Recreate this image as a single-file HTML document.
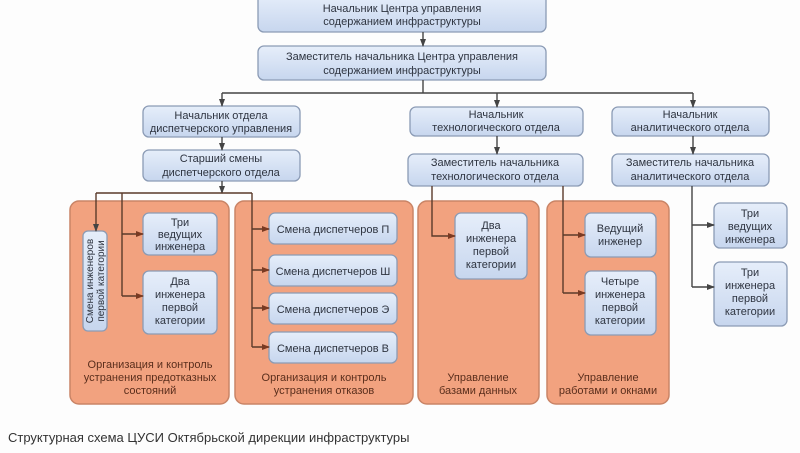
<!DOCTYPE html>
<html><head><meta charset="utf-8"><style>
html,body{margin:0;padding:0;background:#fdfdfd;}
svg{display:block;}
text{font-family:"Liberation Sans",sans-serif;font-size:11px;fill:#2e3440;text-anchor:middle;}
.o{fill:#5a2e1c;}
.v{font-size:10px;}
</style></head><body>
<svg width="800" height="453" viewBox="0 0 800 453" xmlns="http://www.w3.org/2000/svg">
<defs>
<linearGradient id="g" x1="0" y1="0" x2="0" y2="1"><stop offset="0" stop-color="#e6eefa"/><stop offset="1" stop-color="#c7d6ee"/></linearGradient>
<marker id="a" markerWidth="8" markerHeight="8" refX="7" refY="4" orient="auto" markerUnits="userSpaceOnUse"><path d="M0,1 L8,4 L0,7 Z" fill="#444"/></marker>
<marker id="b" markerWidth="8" markerHeight="8" refX="7" refY="4" orient="auto" markerUnits="userSpaceOnUse"><path d="M0,1 L8,4 L0,7 Z" fill="#7a3a22"/></marker>
</defs>
<g fill="#f2a27f" stroke="#c98466" stroke-width="1.5">
<rect x="70" y="201" width="159" height="203" rx="9"/>
<rect x="235" y="201" width="178" height="203" rx="9"/>
<rect x="418" y="201" width="121" height="203" rx="9"/>
<rect x="547" y="201" width="122" height="203" rx="9"/>
</g>
<g fill="url(#g)" stroke="#8b9bb5" stroke-width="1.3">
<rect x="258" y="-6" width="288" height="38" rx="6"/>
<rect x="258" y="46" width="288" height="34" rx="6"/>
<rect x="143" y="106" width="157" height="31" rx="6"/>
<rect x="143" y="150" width="157" height="31" rx="6"/>
<rect x="410" y="107" width="173" height="29" rx="6"/>
<rect x="612" y="107" width="157" height="29" rx="6"/>
<rect x="408" y="154" width="175" height="32" rx="6"/>
<rect x="612" y="154" width="157" height="32" rx="6"/>
<rect x="83" y="231" width="24" height="100" rx="5"/>
<rect x="143" y="213" width="74" height="42" rx="6"/>
<rect x="143" y="271" width="74" height="63" rx="6"/>
<rect x="269" y="213" width="128" height="31" rx="6"/>
<rect x="269" y="255" width="128" height="31" rx="6"/>
<rect x="269" y="293" width="128" height="31" rx="6"/>
<rect x="269" y="332" width="128" height="31" rx="6"/>
<rect x="455" y="213" width="72" height="66" rx="6"/>
<rect x="585" y="213" width="71" height="44" rx="6"/>
<rect x="585" y="271" width="71" height="64" rx="6"/>
<rect x="714" y="203" width="73" height="45" rx="6"/>
<rect x="714" y="262" width="73" height="64" rx="6"/>
</g>
<g stroke="#444" stroke-width="1.4" fill="none">
<path d="M423,32 V46" marker-end="url(#a)"/>
<path d="M423,80 V93"/>
<path d="M222,93 H693"/>
<path d="M222,93 V106" marker-end="url(#a)"/>
<path d="M497,93 V107" marker-end="url(#a)"/>
<path d="M693,93 V107" marker-end="url(#a)"/>
<path d="M222,137 V150" marker-end="url(#a)"/>
<path d="M497,136 V154" marker-end="url(#a)"/>
<path d="M693,136 V154" marker-end="url(#a)"/>
<path d="M222,181 V193" marker-end="url(#a)"/>
<path d="M692,186 V287 M692,225 H714" marker-end="url(#a)"/>
<path d="M692,287 H714" marker-end="url(#a)"/>
</g>
<g stroke="#5a3a2a" stroke-width="1.4" fill="none">
<path d="M96,193 H252"/>
<path d="M96,193 V231" marker-end="url(#a)"/>
<path d="M122,193 V296"/>
<path d="M122,234 H143" marker-end="url(#b)"/>
<path d="M122,296 H143" marker-end="url(#b)"/>
<path d="M252,193 V347"/>
<path d="M252,229 H269" marker-end="url(#b)"/>
<path d="M252,270 H269" marker-end="url(#b)"/>
<path d="M252,308 H269" marker-end="url(#b)"/>
<path d="M252,347 H269" marker-end="url(#b)"/>
<path d="M432,186 V236 H455" marker-end="url(#b)"/>
<path d="M563,186 V293"/>
<path d="M563,235 H585" marker-end="url(#b)"/>
<path d="M563,293 H585" marker-end="url(#b)"/>
</g>
<text x="402" y="12">Начальник Центра управления</text>
<text x="402" y="25">содержанием инфраструктуры</text>
<text x="402" y="60">Заместитель начальника Центра управления</text>
<text x="402" y="74">содержанием инфраструктуры</text>
<text x="221" y="119">Начальник отдела</text>
<text x="221" y="132">диспетчерского управления</text>
<text x="221" y="162">Старший смены</text>
<text x="221" y="176">диспетчерского отдела</text>
<text x="496" y="118">Начальник</text>
<text x="496" y="131">технологического отдела</text>
<text x="690" y="118">Начальник</text>
<text x="690" y="131">аналитического отдела</text>
<text x="495" y="166">Заместитель начальника</text>
<text x="495" y="180">технологического отдела</text>
<text x="690" y="166">Заместитель начальника</text>
<text x="690" y="180">аналитического отдела</text>
<text class="v" transform="translate(93,281) rotate(-90)">Смена инженеров</text>
<text class="v" transform="translate(104,281) rotate(-90)">первой категории</text>
<text x="180" y="226">Три</text><text x="180" y="238">ведущих</text><text x="180" y="250">инженера</text>
<text x="180" y="285">Два</text><text x="180" y="298">инженера</text><text x="180" y="311">первой</text><text x="180" y="324">категории</text>
<text x="333" y="233">Смена диспетчеров П</text>
<text x="333" y="275">Смена диспетчеров Ш</text>
<text x="333" y="313">Смена диспетчеров Э</text>
<text x="333" y="352">Смена диспетчеров В</text>
<text x="491" y="229">Два</text><text x="491" y="242">инженера</text><text x="491" y="255">первой</text><text x="491" y="268">категории</text>
<text x="620" y="232">Ведущий</text><text x="620" y="245">инженер</text>
<text x="620" y="285">Четыре</text><text x="620" y="298">инженера</text><text x="620" y="311">первой</text><text x="620" y="324">категории</text>
<text x="750" y="217">Три</text><text x="750" y="230">ведущих</text><text x="750" y="243">инженера</text>
<text x="750" y="276">Три</text><text x="750" y="289">инженера</text><text x="750" y="302">первой</text><text x="750" y="315">категории</text>
<text class="o" x="150" y="368">Организация и контроль</text>
<text class="o" x="150" y="381">устранения предотказных</text>
<text class="o" x="150" y="394">состояний</text>
<text class="o" x="324" y="381">Организация и контроль</text>
<text class="o" x="324" y="394">устранения отказов</text>
<text class="o" x="478" y="381">Управление</text>
<text class="o" x="478" y="394">базами данных</text>
<text class="o" x="608" y="381">Управление</text>
<text class="o" x="608" y="394">работами и окнами</text>
<text x="8" y="442" style="text-anchor:start;font-size:13px;fill:#333">Структурная схема ЦУСИ Октябрьской дирекции инфраструктуры</text>
</svg>
</body></html>
